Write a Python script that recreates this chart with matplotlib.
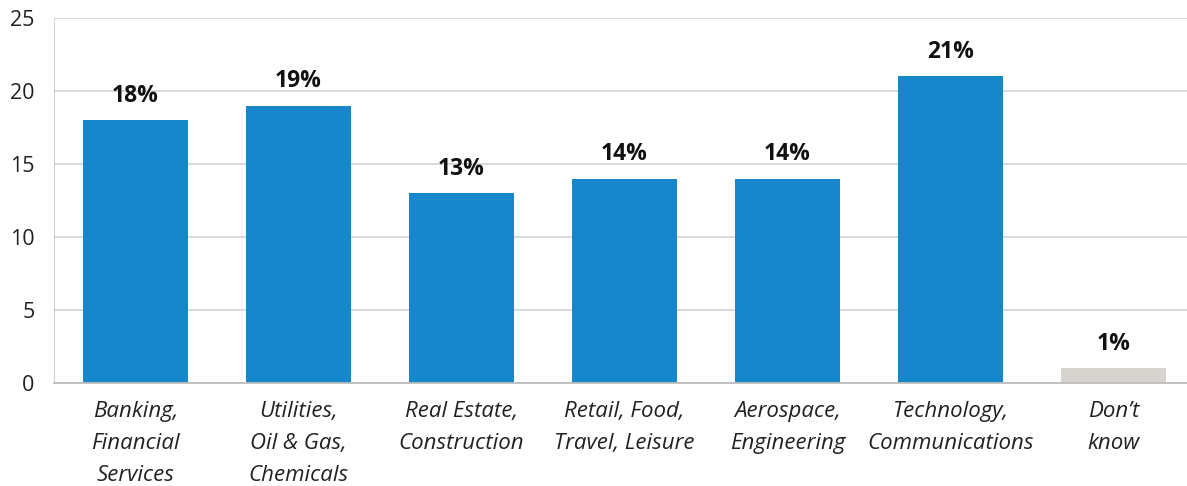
import matplotlib
matplotlib.use('Agg')
import matplotlib.pyplot as plt

categories = ['Banking,\nFinancial\nServices', 'Utilities,\nOil & Gas,\nChemicals',
              'Real Estate,\nConstruction', 'Retail, Food,\nTravel, Leisure',
              'Aerospace,\nEngineering', 'Technology,\nCommunications', 'Don\u2019t\nknow']
values = [18, 19, 13, 14, 14, 21, 1]
bar_colors = ['#1787cb'] * 6 + ['#d7d4cf']
yticks = [0, 5, 10, 15, 20, 25]

plt.rcParams['font.family'] = ['Open Sans', 'DejaVu Sans']

fig = plt.figure(figsize=(11.87, 4.86), dpi=100)
ax = fig.add_axes([0.0455, 0.212, 0.9545, 0.751])

x = range(len(values))
ax.bar(x, values, width=0.645, color=bar_colors, zorder=2)
for xi, v in zip(x, values):
    ax.text(xi, v + 0.85, f'{v}%', ha='center', va='bottom',
            fontsize=16.5, fontweight='bold', color='#111111')

ax.set_xlim(-0.5, 6.45)
ax.set_ylim(0, 25)
ax.set_yticks(yticks)
ax.set_yticklabels([str(t) for t in yticks], fontsize=15.5, color='#222222')
ax.yaxis.grid(True, color='#d3d3d3', linewidth=1.2, zorder=0)
ax.tick_params(axis='y', length=0, pad=14)
ax.tick_params(axis='x', length=0, pad=13)
ax.set_xticks(list(x))
ax.set_xticklabels(categories, fontsize=16, fontstyle='italic',
                   color='#222222', linespacing=1.68)

for side in ['top', 'right']:
    ax.spines[side].set_visible(False)
ax.spines['left'].set_color('#cfcfcf')
ax.spines['bottom'].set_color('#bdbdbd')
ax.spines['bottom'].set_linewidth(1.3)

fig.savefig('out.png', dpi=100)
